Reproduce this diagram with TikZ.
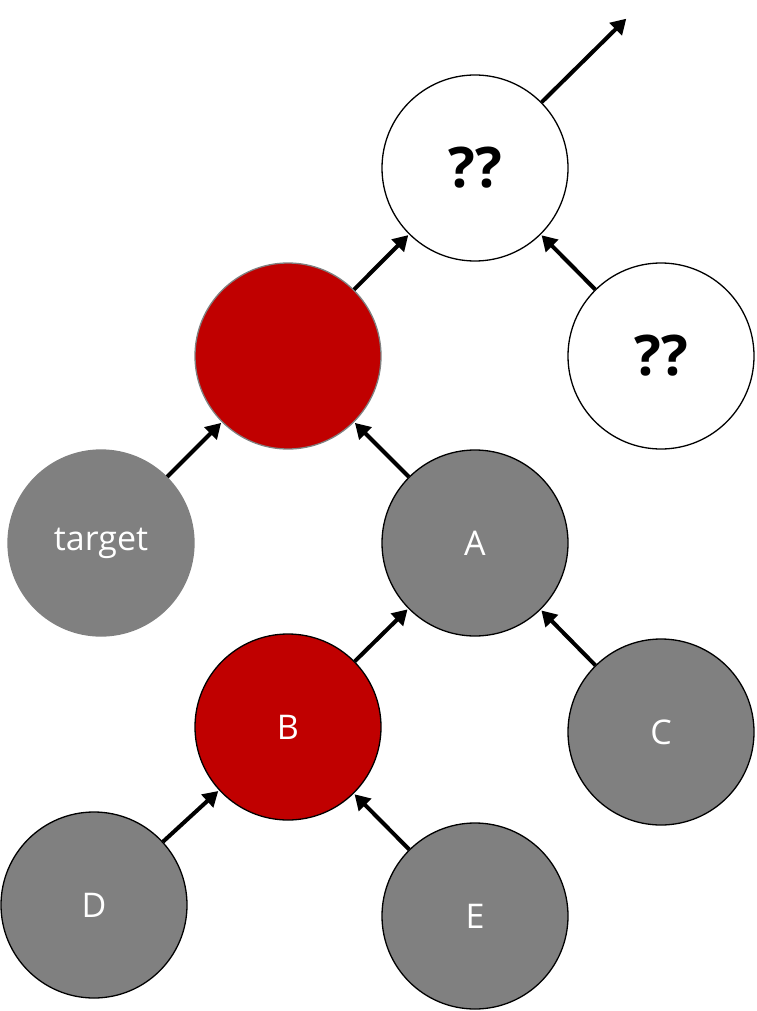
\documentclass[tikz,border=0pt]{standalone}
\usepackage{fontspec}
\setmainfont{Open Sans}
\usetikzlibrary{arrows.meta}
\definecolor{nodegray}{RGB}{128,128,128}
\definecolor{nodered}{RGB}{192,0,0}
\begin{document}
\begin{tikzpicture}[x=1pt,y=-1pt,
  tnode/.style={circle,minimum size=186pt,inner sep=0pt,line width=1.3pt,font=\fontsize{34}{40}\selectfont,text=white},
  graynode/.style={tnode,fill=nodegray,draw=black},
  grayflat/.style={tnode,fill=nodegray,draw=nodegray},
  rednode/.style={tnode,fill=nodered,draw=black},
  redflat/.style={tnode,fill=nodered,draw=nodegray},
  whitenode/.style={tnode,fill=white,draw=black,text=black,font=\bfseries\fontsize{56}{64}\selectfont},
  arr/.style={line width=4pt,-{Triangle[length=15pt,width=17pt]},shorten >=1pt}
]
\useasboundingbox (0,0) rectangle (756,1011);
\node[whitenode] (q1) at (475,168) {??};
\node[whitenode] (q2) at (661,356) {??};
\node[redflat] (r) at (288,356) {};
\node[grayflat] (t) at (101,543) {target};
\node[graynode] (a) at (475,543) {A};
\node[rednode] (b) at (288,727) {B};
\node[graynode] (c) at (661,732) {C};
\node[graynode] (d) at (94,905) {D};
\node[graynode] (e) at (475,916) {E};
\coordinate (out) at (627,18);
\draw[arr] (q1) -- (out);
\draw[arr] (r) -- (q1);
\draw[arr] (q2) -- (q1);
\draw[arr] (t) -- (r);
\draw[arr] (a) -- (r);
\draw[arr] (b) -- (a);
\draw[arr] (c) -- (a);
\draw[arr] (d) -- (b);
\draw[arr] (e) -- (b);
\end{tikzpicture}
\end{document}
